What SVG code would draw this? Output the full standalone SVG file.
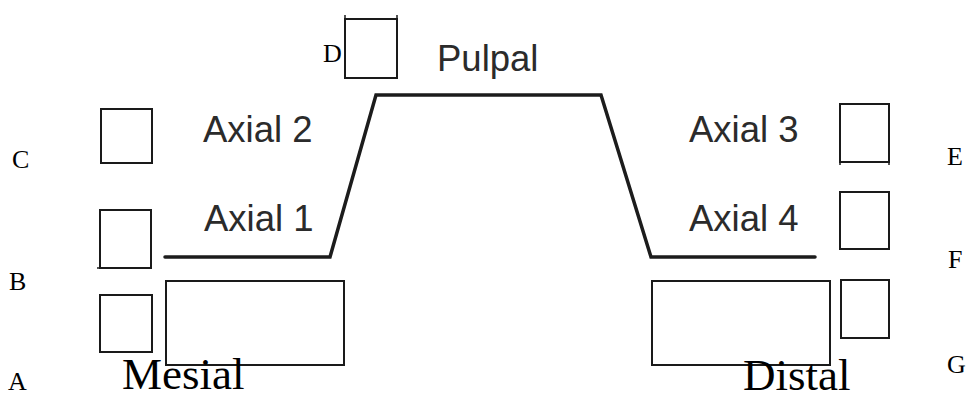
<svg xmlns="http://www.w3.org/2000/svg" width="968" height="394" viewBox="0 0 968 394">
<style>
.bg{fill:#fff}
.box{fill:none;stroke:#1a1a1a;stroke-width:2}
.tick{stroke:#1a1a1a;stroke-width:1.5}
.letter{font-family:"Liberation Serif","Times New Roman",serif;font-size:26px;fill:#000}
.big{font-family:"Liberation Serif","Times New Roman",serif;font-size:45px;fill:#000}
.lbl{font-family:"Liberation Sans",Arial,sans-serif;font-size:36.5px;fill:#2b2b2b}
.outline{fill:none;stroke:#1c1c1c;stroke-width:3.5;stroke-linejoin:miter;stroke-linecap:round}
</style>
<rect class="bg" x="0" y="0" width="968" height="394"/>
<g id="connectors">
<path class="outline" d="M165,257 L330,257 L376,95 L601,95 L651,257 L815,257"/>
</g>
<g id="labels-regions">
<text class="lbl" x="437" y="71">Pulpal</text>
<text class="lbl" x="203" y="142">Axial 2</text>
<text class="lbl" x="204" y="231">Axial 1</text>
<text class="lbl" x="689" y="142">Axial 3</text>
<text class="lbl" x="689" y="231">Axial 4</text>
</g>
<g id="rect-mesial">
<rect class="box" x="166" y="281" width="178" height="84"/>
<text class="big" x="122" y="389">Mesial</text>
</g>
<g id="rect-distal">
<rect class="box" x="652" y="281" width="178" height="84"/>
<text class="big" x="743" y="390">Distal</text>
</g>
<g id="node-A">
<rect class="box" x="100" y="295" width="52" height="57"/>
<text class="letter" x="8" y="390">A</text>
</g>
<g id="node-B">
<rect class="box" x="100" y="210" width="51" height="58"/>
<line class="tick" x1="97" y1="268" x2="100" y2="268"/>
<text class="letter" x="9" y="290">B</text>
</g>
<g id="node-C">
<rect class="box" x="101" y="109" width="51" height="54"/>
<text class="letter" x="12" y="168">C</text>
</g>
<g id="node-D">
<rect class="box" x="345" y="19" width="52" height="59"/>
<line class="tick" x1="345" y1="15" x2="345" y2="19"/>
<line class="tick" x1="397" y1="15" x2="397" y2="19"/>
<text class="letter" x="323" y="62">D</text>
</g>
<g id="node-E">
<rect class="box" x="840" y="104" width="49" height="58"/>
<line class="tick" x1="840" y1="162" x2="840" y2="165"/>
<line class="tick" x1="889" y1="162" x2="889" y2="165"/>
<text class="letter" x="947" y="165">E</text>
</g>
<g id="node-F">
<rect class="box" x="840" y="192" width="49" height="57"/>
<text class="letter" x="948" y="268">F</text>
</g>
<g id="node-G">
<rect class="box" x="841" y="280" width="48" height="58"/>
<text class="letter" x="947" y="373">G</text>
</g>
</svg>
